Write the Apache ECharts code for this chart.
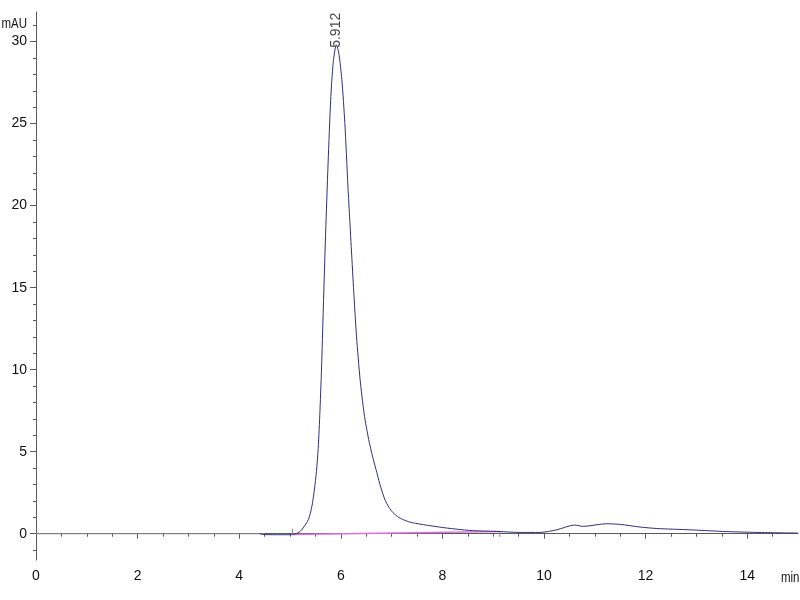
<!DOCTYPE html>
<html>
<head>
<meta charset="utf-8">
<script src="https://cdn.jsdelivr.net/npm/echarts@6/dist/echarts.min.js"></script>
<style>html,body{margin:0;padding:0;background:#fff;}#c{width:800px;height:600px;}</style>
</head>
<body>
<div id="c"></div>
<script>
// Chromatogram trace (time in min, signal in mAU)
const traceTime = [4.4, 4.5, 4.8, 5.0, 5.06, 5.2, 5.36, 5.43, 5.48, 5.52, 5.555, 5.59, 5.625, 5.66, 5.70, 5.75, 5.80, 5.85, 5.912, 5.96, 6.02, 6.08, 6.14, 6.20, 6.25, 6.31, 6.38, 6.46, 6.55, 6.63, 6.71, 6.79, 6.87, 6.95, 7.03, 7.12, 7.22, 7.36, 7.5, 7.76, 8.08, 8.54, 9.07, 9.53, 9.92, 10.25, 10.6, 10.77, 11.23, 11.5, 11.89, 12.22, 12.87, 13.53, 14.19, 15.0];
const traceSignal = [0, -0.05, -0.06, -0.06, -0.05, 0.14, 0.85, 1.66, 2.68, 3.8, 5.2, 7.5, 10.5, 14.2, 18.2, 22.6, 26.4, 28.7, 29.8, 29.3, 27.7, 25.0, 21.2, 17.8, 15.0, 12.0, 9.4, 7.3, 5.73, 4.65, 3.72, 2.8, 2.07, 1.6, 1.28, 1.04, 0.87, 0.71, 0.62, 0.49, 0.35, 0.2, 0.14, 0.08, 0.08, 0.24, 0.53, 0.45, 0.61, 0.57, 0.41, 0.32, 0.24, 0.14, 0.08, 0.04];
// flat zero baseline before the trace
const zeroTime = [0, 4.5];
const zeroSignal = [0, 0];
// integration baseline
const baseTime = [5.06, 9.12];
const baseSignal = [-0.05, 0.13];
// integration start / end markers
const startMarkTime = [5.05, 5.05];
const startMarkSignal = [-0.06, 0.3];
const endMarkTime = [9.13, 9.13];
const endMarkSignal = [-0.2, 0.1];
// peak annotation
const peakTime = 5.912;
const peakSignal = 29.8;
const peakLabel = '5.912';
// axis ticks
const xMajor = [0, 2, 4, 6, 8, 10, 12, 14];
const xMinor = [0.5, 1, 1.5, 2.5, 3, 3.5, 4.5, 5, 5.5, 6.5, 7, 7.5, 8.5, 9, 9.5, 10.5, 11, 11.5, 12.5, 13, 13.5, 14.5];
const yMajor = [0, 5, 10, 15, 20, 25, 30];
const yMinor = [-1, 1, 2, 3, 4, 6, 7, 8, 9, 11, 12, 13, 14, 16, 17, 18, 19, 21, 22, 23, 24, 26, 27, 28, 29, 31];

const pairs = (xs, ys) => xs.map((x, i) => [x, ys[i]]);
const axisColor = '#5a5a5a';
const FONT = 'Liberation Sans, Arial, sans-serif';
const labelFont = { fontFamily: FONT, fontSize: 14, color: '#111' };

const chart = echarts.init(document.getElementById('c'), null, { renderer: 'canvas' });
chart.setOption({
  animation: false,
  backgroundColor: '#fff',
  grid: { left: 36, right: 2, top: 12, bottom: 40, containLabel: false },
  xAxis: [
    {
      type: 'value', position: 'bottom', min: 0, max: 15,
      axisLine: { show: true, lineStyle: { color: axisColor, width: 1 } },
      axisTick: { show: true, customValues: xMajor, length: 5, lineStyle: { color: axisColor } },
      axisLabel: Object.assign({ customValues: xMajor, margin: 9 }, labelFont),
      splitLine: { show: false }
    },
    {
      type: 'value', position: 'bottom', min: 0, max: 15,
      axisLine: { show: false },
      axisTick: { show: true, customValues: xMinor, length: 3, lineStyle: { color: axisColor } },
      axisLabel: { show: false },
      splitLine: { show: false }
    }
  ],
  yAxis: [
    {
      type: 'value', position: 'left', min: -1.6, max: 31.8,
      axisLine: { show: true, lineStyle: { color: axisColor, width: 1 } },
      axisTick: { show: true, customValues: yMajor, length: 6, lineStyle: { color: axisColor } },
      axisLabel: Object.assign({ customValues: yMajor, margin: 9 }, labelFont),
      splitLine: { show: false }
    },
    {
      type: 'value', position: 'left', min: -1.6, max: 31.8,
      axisLine: { show: false },
      axisTick: { show: true, customValues: yMinor, length: 3, lineStyle: { color: axisColor } },
      axisLabel: { show: false },
      splitLine: { show: false }
    }
  ],
  graphic: [
    { type: 'text', x: 27, y: 24, scaleX: 0.82, style: { text: 'mAU', fill: '#111', align: 'right', verticalAlign: 'middle', fontFamily: FONT, fontSize: 14 } },
    { type: 'text', x: 781, y: 578, scaleX: 0.82, style: { text: 'min', fill: '#111', align: 'left', verticalAlign: 'middle', fontFamily: FONT, fontSize: 14 } }
  ],
  series: [
    {
      type: 'line', xAxisIndex: 0, yAxisIndex: 0, data: pairs(zeroTime, zeroSignal),
      showSymbol: false, lineStyle: { color: '#8a8a98', width: 1 }, silent: true
    },
    {
      type: 'line', xAxisIndex: 0, yAxisIndex: 0, data: pairs(baseTime, baseSignal),
      showSymbol: false, lineStyle: { color: '#e070e0', width: 1.5 }, silent: true
    },
    {
      type: 'line', xAxisIndex: 0, yAxisIndex: 0, data: pairs(traceTime, traceSignal),
      showSymbol: false, smooth: 0.25,
      lineStyle: { color: '#30307a', width: 1 }, silent: true
    },
    {
      type: 'line', xAxisIndex: 0, yAxisIndex: 0, data: pairs(startMarkTime, startMarkSignal),
      showSymbol: false, lineStyle: { color: '#888', width: 1 }, silent: true
    },
    {
      type: 'line', xAxisIndex: 0, yAxisIndex: 0, data: pairs(endMarkTime, endMarkSignal),
      showSymbol: false, lineStyle: { color: '#888', width: 1 }, silent: true
    },
    {
      type: 'scatter', xAxisIndex: 0, yAxisIndex: 0, data: [[peakTime, peakSignal]],
      symbolSize: 0, silent: true,
      label: {
        show: true, formatter: peakLabel, position: 'top', distance: -3, rotate: 90,
        align: 'left', verticalAlign: 'middle',
        fontFamily: FONT, fontSize: 14, color: '#111'
      }
    }
  ]
});
</script>
</body>
</html>
